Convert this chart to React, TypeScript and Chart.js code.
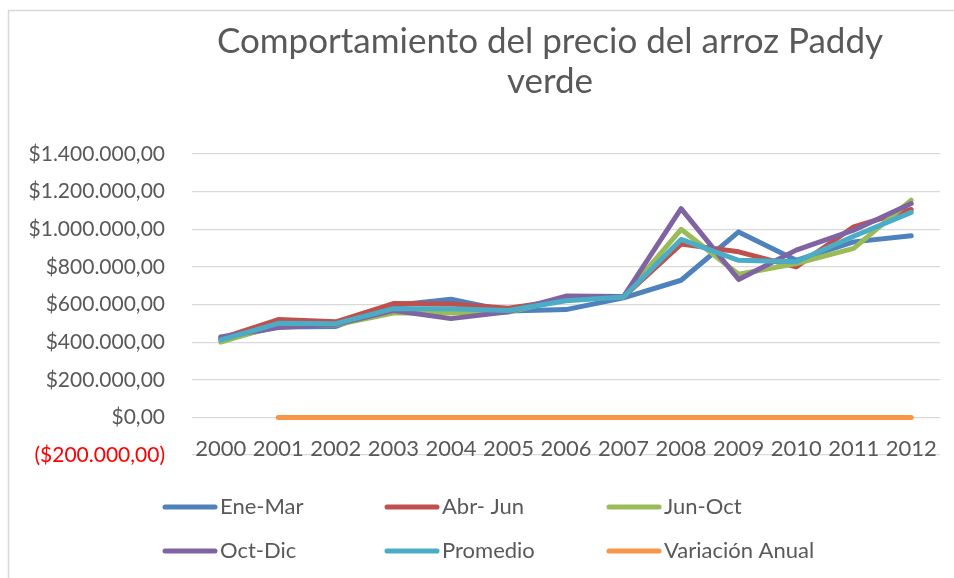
import React, { useEffect, useRef } from "react";
import { Chart, registerables } from "chart.js";

Chart.register(...registerables);

const years = ["2000", "2001", "2002", "2003", "2004", "2005", "2006", "2007", "2008", "2009", "2010", "2011", "2012"];
const eneMar = [415000, 480000, 483000, 595000, 628000, 565000, 573000, 635000, 729000, 986000, 835000, 933000, 965000];
const abrJun = [420000, 520000, 508000, 605000, 603000, 580000, 625000, 640000, 921000, 880000, 800000, 1013000, 1105000];
const junOct = [400000, 490000, 492000, 555000, 555000, 560000, 630000, 640000, 1000000, 761000, 818000, 898000, 1155000];
const octDic = [428000, 478000, 495000, 568000, 525000, 562000, 645000, 642000, 1110000, 733000, 889000, 995000, 1137000];
const promedio = [412000, 500000, 498000, 578000, 578000, 568000, 620000, 640000, 946000, 835000, 827000, 963000, 1090000];
const variacionAnual = [null, 0, 0, 0, 0, 0, 0, 0, 0, 0, 0, 0, 0];

const seriesLabels = ["Ene-Mar", "Abr- Jun", "Jun-Oct", "Oct-Dic", "Promedio", "Variación Anual"];
const seriesColors = ["#4F81BD", "#C0504D", "#9BBB59", "#8064A2", "#4BACC6", "#F79646"];
const titleLines = ["Comportamiento del precio del arroz Paddy", "verde"];
const yMin = -200000;
const yMax = 1400000;
const yStep = 200000;

const FONT = "Lato, 'Open Sans', sans-serif";
const TEXT = "#595959";

function formatMoney(v: number): string {
  const abs = Math.abs(v);
  const intPart = Math.round(abs).toString().replace(/\B(?=(\d{3})+(?!\d))/g, ".");
  const s = "$" + intPart + ",00";
  return v < 0 ? "(" + s + ")" : s;
}

const framePlugin = {
  id: "frame",
  afterLayout(chart: any) {
    const t = chart.titleBlock;
    if (t) {
      t.left = 160;
      t.right = chart.chartArea.right;
      t.width = t.right - t.left;
    }
  },
  beforeDraw(chart: any) {
    const ctx = chart.ctx;
    ctx.save();
    ctx.fillStyle = "#ffffff";
    ctx.fillRect(0, 0, chart.width, chart.height);
    ctx.strokeStyle = "#d9d9d9";
    ctx.lineWidth = 1.5;
    ctx.beginPath();
    ctx.moveTo(8.5, chart.height);
    ctx.lineTo(8.5, 10.5);
    ctx.lineTo(chart.width, 10.5);
    ctx.stroke();
    ctx.restore();
  },
};

const legendPlugin = {
  id: "gridLegend",
  afterDraw(chart: any) {
    const ctx = chart.ctx;
    const area = chart.chartArea;
    const startX = area.left - 29;
    const colW = 222;
    const rowH = 44;
    const startY = area.bottom + 52;
    ctx.save();
    chart.data.datasets.forEach((ds: any, i: number) => {
      const col = i % 3;
      const row = Math.floor(i / 3);
      const x = startX + col * colW;
      const y = startY + row * rowH;
      ctx.strokeStyle = ds.borderColor;
      ctx.lineWidth = 5;
      ctx.lineCap = "round";
      ctx.beginPath();
      ctx.moveTo(x + 2, y);
      ctx.lineTo(x + 52, y);
      ctx.stroke();
      ctx.fillStyle = TEXT;
      ctx.font = "22px " + FONT;
      ctx.textBaseline = "middle";
      ctx.textAlign = "left";
      ctx.fillText(ds.label, x + 57, y);
    });
    ctx.restore();
  },
};

export default function App() {
  const canvasRef = useRef<HTMLCanvasElement | null>(null);

  useEffect(() => {
    if (!canvasRef.current) return;
    const seriesData = [eneMar, abrJun, junOct, octDic, promedio, variacionAnual];
    const chart = new Chart(canvasRef.current, {
      type: "line",
      data: {
        labels: years,
        datasets: seriesData.map((d, i) => ({
          label: seriesLabels[i],
          data: d,
          borderColor: seriesColors[i],
          backgroundColor: seriesColors[i],
          borderWidth: 5,
          borderCapStyle: "round",
          borderJoinStyle: "round",
          pointRadius: 0,
          pointHoverRadius: 0,
          tension: 0,
          fill: false,
          spanGaps: false,
          order: seriesData.length - i,
        })),
      },
      options: {
        responsive: false,
        animation: false,
        devicePixelRatio: 1,
        layout: { padding: { left: 0, right: 14, top: 0, bottom: 123 } },
        plugins: {
          legend: { display: false },
          tooltip: { enabled: false },
          title: {
            display: true,
            text: titleLines,
            color: TEXT,
            font: { family: FONT, size: 35, weight: "normal", lineHeight: 1.143 },
            padding: { top: 22, bottom: 52 },
          },
        },
        scales: {
          x: {
            type: "category",
            offset: true,
            position: { y: -100000 } as any,
            grid: { display: false, drawTicks: false },
            border: { display: false },
            ticks: {
              color: TEXT,
              font: { family: FONT, size: 22 },
              padding: 0,
              maxRotation: 0,
              autoSkip: false,
            },
            afterFit(scale: any) {
              scale.paddingLeft = 0;
              scale.paddingRight = 0;
            },
          },
          y: {
            min: yMin,
            max: yMax,
            grid: { color: "#d9d9d9", lineWidth: 1.2, drawTicks: false },
            border: { display: false },
            ticks: {
              stepSize: yStep,
              padding: 27,
              font: { family: FONT, size: 21 },
              color: (ctx: any) => (ctx.tick && ctx.tick.value < 0 ? "#FF0000" : TEXT),
              callback: (v: any) => formatMoney(Number(v)),
            },
            afterFit(scale: any) {
              scale.width = 192;
              scale.paddingTop = 0;
              scale.paddingBottom = 0;
            },
          },
        },
      },
      plugins: [framePlugin, legendPlugin],
    } as any);
    return () => chart.destroy();
  }, []);

  return (
    <div style={{ position: "fixed", left: 0, top: 0, width: 954, height: 578, overflow: "hidden", background: "#fff" }}>
      <canvas ref={canvasRef} width={954} height={578} style={{ display: "block", width: 954, height: 578 }} />
    </div>
  );
}
